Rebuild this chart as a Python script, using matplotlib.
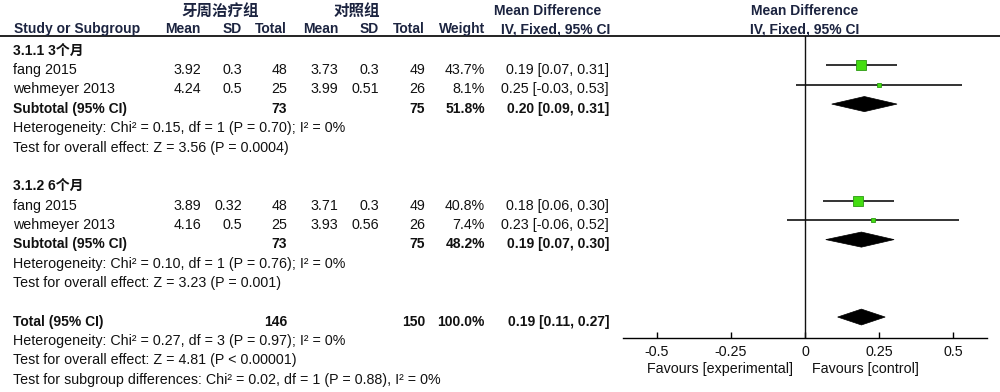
import matplotlib
matplotlib.use('Agg')
import matplotlib.pyplot as plt
from matplotlib.patches import Polygon

plt.rcParams['font.family'] = ['Liberation Sans', 'Noto Sans CJK SC', 'DejaVu Sans']

# ---------------- data ----------------
group_labels = ['3.1.1 3个月', '3.1.2 6个月']
study_names = ['fang 2015', 'wehmeyer 2013', 'fang 2015', 'wehmeyer 2013']
study_group = [0, 0, 1, 1]
exp_mean = ['3.92', '4.24', '3.89', '4.16']
exp_sd = ['0.3', '0.5', '0.32', '0.5']
exp_n = [48, 25, 48, 25]
ctl_mean = ['3.73', '3.99', '3.71', '3.93']
ctl_sd = ['0.3', '0.51', '0.3', '0.56']
ctl_n = [49, 26, 49, 26]
weights = [43.7, 8.1, 40.8, 7.4]
md = [0.19, 0.25, 0.18, 0.23]
ci_low = [0.07, -0.03, 0.06, -0.06]
ci_high = [0.31, 0.53, 0.30, 0.52]

sub_exp_n = [73, 73]
sub_ctl_n = [75, 75]
sub_weight = [51.8, 48.2]
sub_md = [0.20, 0.19]
sub_low = [0.09, 0.07]
sub_high = [0.31, 0.30]
sub_het = ['Heterogeneity: Chi² = 0.15, df = 1 (P = 0.70); I² = 0%',
           'Heterogeneity: Chi² = 0.10, df = 1 (P = 0.76); I² = 0%']
sub_effect = ['Test for overall effect: Z = 3.56 (P = 0.0004)',
              'Test for overall effect: Z = 3.23 (P = 0.001)']

total_exp_n = 146
total_ctl_n = 150
total_weight = 100.0
total_md = 0.19
total_low = 0.11
total_high = 0.27
total_notes = ['Heterogeneity: Chi² = 0.27, df = 3 (P = 0.97); I² = 0%',
               'Test for overall effect: Z = 4.81 (P < 0.00001)',
               'Test for subgroup differences: Chi² = 0.02, df = 1 (P = 0.88), I² = 0%']

x_ticks = [-0.5, -0.25, 0, 0.25, 0.5]
x_tick_labels = ['-0.5', '-0.25', '0', '0.25', '0.5']
favours_left = 'Favours [experimental]'
favours_right = 'Favours [control]'
exp_group_name = '牙周治疗组'
ctl_group_name = '对照组'

# ---------------- layout ----------------
W, H = 1000, 392
FS = 10.3
FSB = 10.0
FS_CJK_HEAD = 11.2
HEAD_C = '#1c2440'
TXT_C = '#111111'
ROW0, ROWH = 46.0, 19.36
BASE_OFF = 8.7

fig = plt.figure(figsize=(W / 100, H / 100), dpi=100)
tx = fig.add_axes([0, 0, 1, 1])
tx.set_xlim(0, W)
tx.set_ylim(H, 0)
tx.axis('off')


def row_px(r):
    return ROW0 + ROWH * r


def t(x, y, s, ha='left', bold=False, color=TXT_C, size=None):
    if size is None:
        size = FSB if bold else FS
    tx.text(x, y, s, ha=ha, va='baseline', fontsize=size,
            fontweight='bold' if bold else 'normal', color=color)


def rt(r, x, s, ha='left', bold=False, color=TXT_C, size=None):
    t(x, row_px(r) + BASE_OFF, s, ha=ha, bold=bold, color=color, size=size)


# column anchors (pixels)
X_NAME = 13
X_EM, X_ESD, X_EN = 201, 242, 287
X_CM, X_CSD, X_CN = 338, 379, 425
X_W, X_CI = 485, 609

# headers
t(220, 16, exp_group_name, ha='center', bold=True, color=HEAD_C, size=FS_CJK_HEAD)
t(357, 16, ctl_group_name, ha='center', bold=True, color=HEAD_C, size=FS_CJK_HEAD)
t(548, 15, 'Mean Difference', ha='center', bold=True, color=HEAD_C)
t(805, 15, 'Mean Difference', ha='center', bold=True, color=HEAD_C)
hy = 33
t(14, hy, 'Study or Subgroup', bold=True, color=HEAD_C)
t(X_EM, hy, 'Mean', ha='right', bold=True, color=HEAD_C)
t(X_ESD, hy, 'SD', ha='right', bold=True, color=HEAD_C)
t(X_EN, hy, 'Total', ha='right', bold=True, color=HEAD_C)
t(X_CM, hy, 'Mean', ha='right', bold=True, color=HEAD_C)
t(X_CSD, hy, 'SD', ha='right', bold=True, color=HEAD_C)
t(X_CN, hy, 'Total', ha='right', bold=True, color=HEAD_C)
t(X_W, hy, 'Weight', ha='right', bold=True, color=HEAD_C)
t(556, hy, 'IV, Fixed, 95% CI', ha='center', bold=True, color=HEAD_C)
t(805, hy, 'IV, Fixed, 95% CI', ha='center', bold=True, color=HEAD_C)
tx.plot([0, W], [35.5, 35.5], color='#222222', lw=1.4, solid_capstyle='butt')

# forest axes
AX_L, AX_R, AX_TOP, AX_BOT = 623, 987, 36, 338
XMIN, XMAX = -0.613, 0.613
fx = fig.add_axes([AX_L / W, 1 - AX_BOT / H, (AX_R - AX_L) / W, (AX_BOT - AX_TOP) / H])
fx.set_xlim(XMIN, XMAX)
fx.set_ylim((AX_BOT - ROW0) / ROWH, (AX_TOP - ROW0) / ROWH)
fx.patch.set_alpha(0)
for s in ['top', 'left', 'right']:
    fx.spines[s].set_visible(False)
fx.spines['bottom'].set_linewidth(1.0)
fx.set_yticks([])
fx.set_xticks(x_ticks)
fx.set_xticklabels(x_tick_labels, fontsize=FS, color=TXT_C)
fx.tick_params(axis='x', direction='in', length=4, width=1.0, pad=5)
fx.axvline(0, color='#111111', lw=1.0)

SQ_K = 1.66 * 0.72  # points per sqrt(weight)

# study rows
group_start = [0, 7]
for g in range(2):
    r0 = group_start[g]
    rt(r0, X_NAME, group_labels[g], bold=True)
    k = 0
    for i in range(len(study_names)):
        if study_group[i] != g:
            continue
        k += 1
        r = r0 + k
        rt(r, X_NAME, study_names[i])
        rt(r, X_EM, exp_mean[i], ha='right')
        rt(r, X_ESD, exp_sd[i], ha='right')
        rt(r, X_EN, str(exp_n[i]), ha='right')
        rt(r, X_CM, ctl_mean[i], ha='right')
        rt(r, X_CSD, ctl_sd[i], ha='right')
        rt(r, X_CN, str(ctl_n[i]), ha='right')
        rt(r, X_W, f'{weights[i]:.1f}%', ha='right')
        rt(r, X_CI, f'{md[i]:.2f} [{ci_low[i]:.2f}, {ci_high[i]:.2f}]', ha='right')
        fx.plot([ci_low[i], ci_high[i]], [r, r], color='#111111', lw=1.2,
                solid_capstyle='butt')
        fx.plot([md[i]], [r], marker='s', markersize=SQ_K * weights[i] ** 0.5,
                markerfacecolor='#44dd11', markeredgecolor='#2c9a12',
                markeredgewidth=0.6, linestyle='none')
    rs = r0 + 3
    rt(rs, X_NAME, 'Subtotal (95% CI)', bold=True)
    rt(rs, X_EN, str(sub_exp_n[g]), ha='right', bold=True)
    rt(rs, X_CN, str(sub_ctl_n[g]), ha='right', bold=True)
    rt(rs, X_W, f'{sub_weight[g]:.1f}%', ha='right', bold=True)
    rt(rs, X_CI, f'{sub_md[g]:.2f} [{sub_low[g]:.2f}, {sub_high[g]:.2f}]',
       ha='right', bold=True)
    h = 0.39
    fx.add_patch(Polygon([(sub_low[g], rs), (sub_md[g], rs - h), (sub_high[g], rs),
                          (sub_md[g], rs + h)], closed=True, facecolor='black',
                         edgecolor='black', lw=0.5))
    rt(r0 + 4, X_NAME, sub_het[g])
    rt(r0 + 5, X_NAME, sub_effect[g])

# total
rT = 14
rt(rT, X_NAME, 'Total (95% CI)', bold=True)
rt(rT, X_EN, str(total_exp_n), ha='right', bold=True)
rt(rT, X_CN, str(total_ctl_n), ha='right', bold=True)
rt(rT, X_W, f'{total_weight:.1f}%', ha='right', bold=True)
rt(rT, X_CI, f'{total_md:.2f} [{total_low:.2f}, {total_high:.2f}]', ha='right', bold=True)
hT = 0.41
fx.add_patch(Polygon([(total_low, rT), (total_md, rT - hT), (total_high, rT),
                      (total_md, rT + hT)], closed=True, facecolor='black',
                     edgecolor='black', lw=0.5))
for j, note in enumerate(total_notes):
    rt(rT + 1 + j, X_NAME, note)

# favours labels
t(793, 373, favours_left, ha='right')
t(812, 373, favours_right, ha='left')

fig.savefig('out.png', dpi=100)
